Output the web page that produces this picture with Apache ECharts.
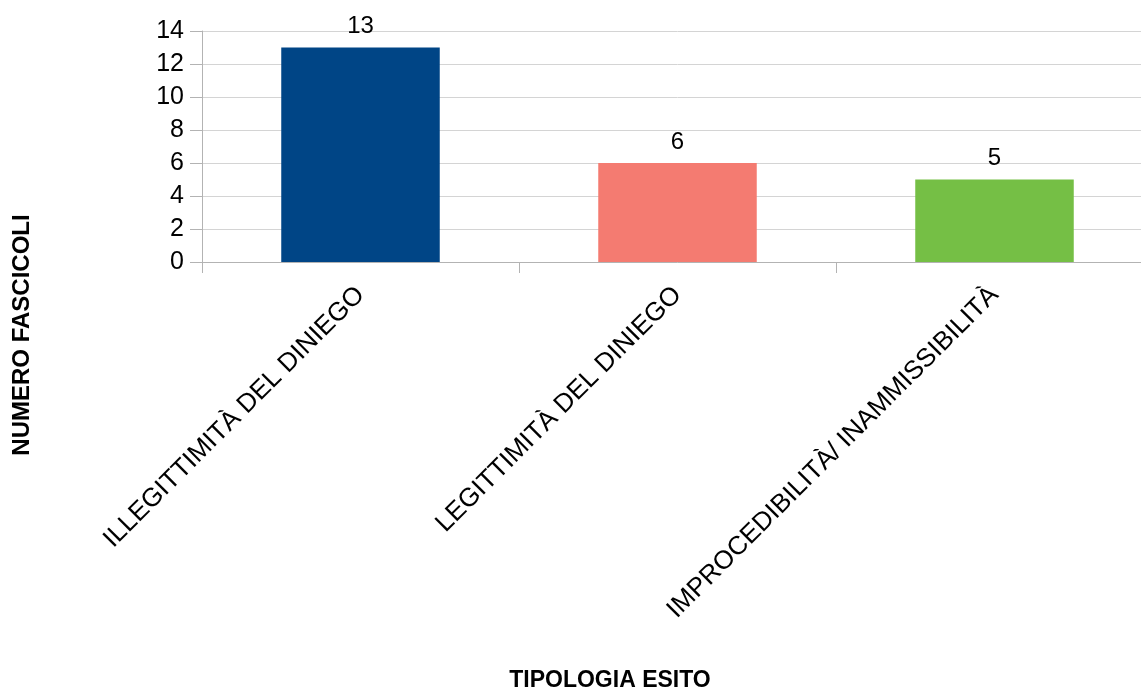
<!DOCTYPE html>
<html><head><meta charset="utf-8">
<script src="https://cdn.jsdelivr.net/npm/echarts@6/dist/echarts.min.js"></script>
<style>html,body{margin:0;padding:0;background:#fff;overflow:hidden}#c{width:1160px;height:691px}</style>
</head><body><div id="c"></div>
<script>
const categories = ['ILLEGITTIMITÀ DEL DINIEGO', 'LEGITTIMITÀ DEL DINIEGO', 'IMPROCEDIBILITÀ/ INAMMISSIBILITÀ'];
const values = [13, 6, 5];
const colors = ['#004586', '#f47b71', '#75bf45'];
const yTicks = [0, 2, 4, 6, 8, 10, 12, 14];
const yTitle = 'NUMERO FASCICOLI';
const xTitle = 'TIPOLOGIA ESITO';

const chart = echarts.init(document.getElementById('c'));
const font = 'Liberation Sans';
chart.setOption({
  animation: false,
  grid: { left: 202, top: 31, right: 7, bottom: 429, containLabel: false },
  xAxis: {
    type: 'category', data: categories,
    axisLine: { show: true, lineStyle: { color: '#b3b3b3', width: 1 } },
    axisTick: { show: true, length: 11, lineStyle: { color: '#b3b3b3' } },
    axisLabel: { rotate: 45, fontFamily: font, fontSize: 26, color: '#000', margin: 29, interval: 0 }
  },
  yAxis: {
    type: 'value', min: yTicks[0], max: yTicks[yTicks.length - 1], interval: 2,
    axisLine: { show: true, lineStyle: { color: '#b3b3b3', width: 1 } },
    axisTick: { show: true, length: 12, lineStyle: { color: '#b3b3b3' } },
    splitLine: { show: true, lineStyle: { color: '#d4d4d4', width: 1 } },
    axisLabel: { fontFamily: font, fontSize: 25, color: '#000', margin: 18 }
  },
  series: [{
    type: 'bar', barWidth: '50%',
    data: values.map((v, i) => ({ value: v, itemStyle: { color: colors[i] } })),
    label: { show: true, position: 'top', distance: 9, fontFamily: font, fontSize: 24, color: '#000' }
  }],
  graphic: [
    { type: 'text', x: 610, y: 681, style: { text: xTitle, font: 'bold 23px "Liberation Sans"', fill: '#000', align: 'center', verticalAlign: 'middle' } },
    { type: 'text', rotation: Math.PI / 2, x: 22, y: 335, style: { text: yTitle, font: 'bold 24px "Liberation Sans"', fill: '#000', align: 'center', verticalAlign: 'middle' } }
  ]
});
</script></body></html>
